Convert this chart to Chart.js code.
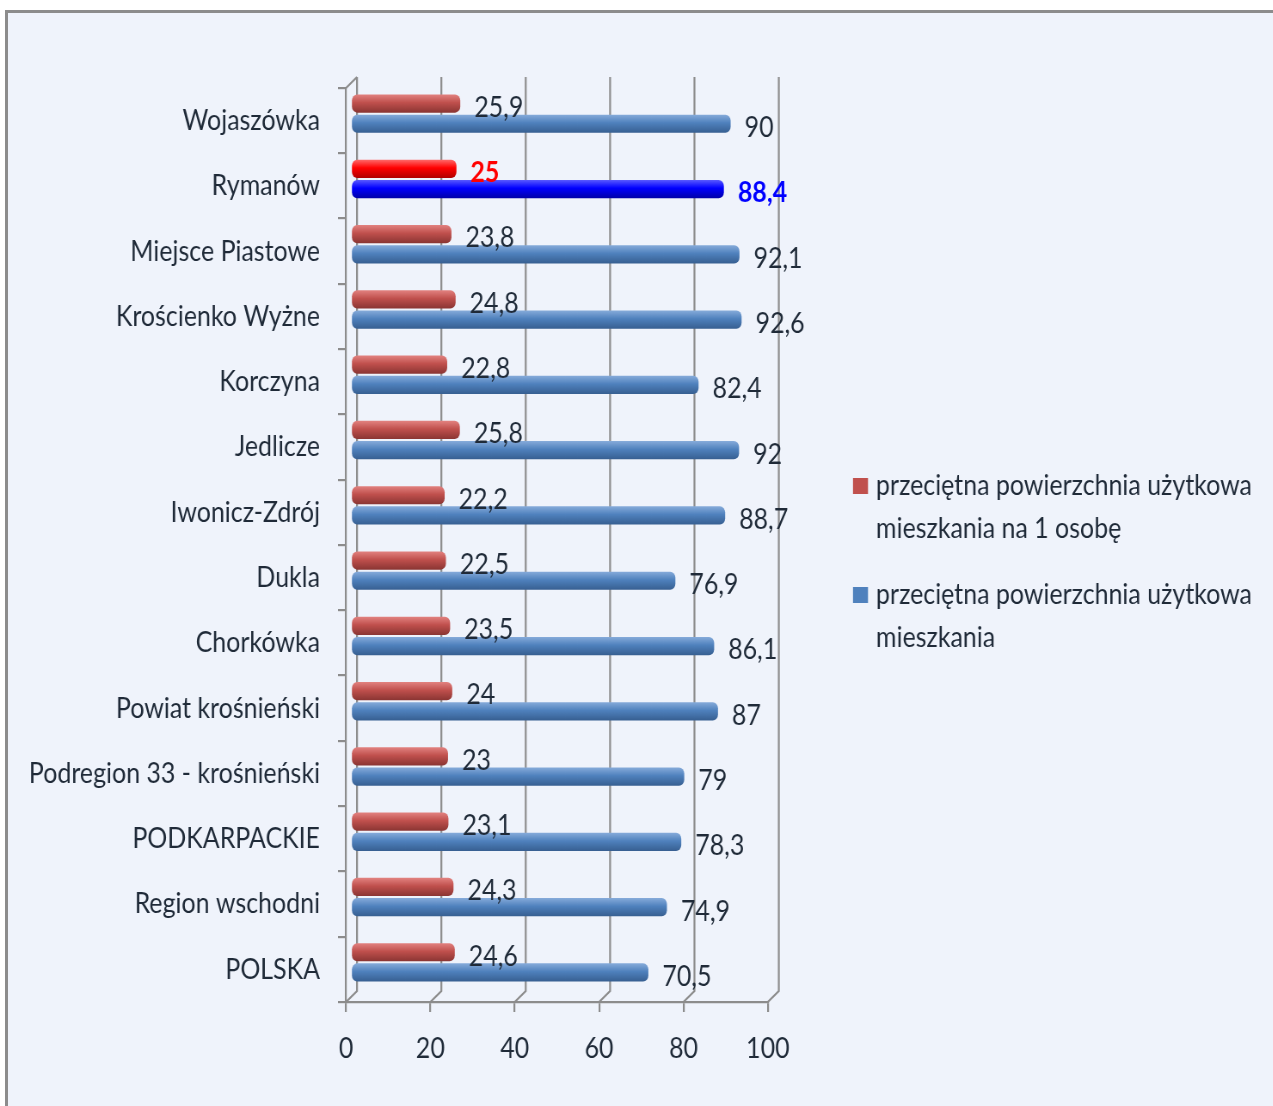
<!DOCTYPE html>
<html lang="pl">
<head>
<meta charset="utf-8">
<title>Przeciętna powierzchnia użytkowa mieszkania</title>
<script src="https://cdn.jsdelivr.net/npm/chart.js@4/dist/chart.umd.min.js"></script>
<style>
  html, body { margin: 0; padding: 0; background: #ffffff; overflow: hidden; width: 1273px; height: 1106px; }
  #frame {
    position: absolute; left: 5px; top: 10px; width: 1300px; height: 1200px;
    border-left: 3px solid #8c8c8c; border-top: 3px solid #8c8c8c;
    background: #eff3fb;
  }
  #chart { position: absolute; left: 0; top: 0; transform-origin: 0 0; }
</style>
</head>
<body>
<div id="frame"></div>
<canvas id="chart"></canvas>
<script>
// Gminy i jednostki porównawcze
const categories = [
  'Wojaszówka', 'Rymanów', 'Miejsce Piastowe', 'Krościenko Wyżne', 'Korczyna',
  'Jedlicze', 'Iwonicz-Zdrój', 'Dukla', 'Chorkówka', 'Powiat krośnieński',
  'Podregion 33 - krośnieński', 'PODKARPACKIE', 'Region wschodni', 'POLSKA'
];
// przeciętna powierzchnia użytkowa mieszkania na 1 osobę [m²]
const perPerson = [25.9, 25, 23.8, 24.8, 22.8, 25.8, 22.2, 22.5, 23.5, 24, 23, 23.1, 24.3, 24.6];
// przeciętna powierzchnia użytkowa mieszkania [m²]
const perDwelling = [90, 88.4, 92.1, 92.6, 82.4, 92, 88.7, 76.9, 86.1, 87, 79, 78.3, 74.9, 70.5];
const seriesNames = [
  ['przeciętna powierzchnia użytkowa', 'mieszkania na 1 osobę'],
  ['przeciętna powierzchnia użytkowa', 'mieszkania']
];
const xTicks = [0, 20, 40, 60, 80, 100];
const highlighted = 'Rymanów';

// narrow rendering: the canvas is drawn wide and squeezed horizontally
const SX = 0.86;
const W = 1273, H = 1106;
const canvas = document.getElementById('chart');
canvas.width = Math.round(W / SX);
canvas.height = H;
canvas.style.width = Math.round(W / SX) + 'px';
canvas.style.height = H + 'px';
canvas.style.transform = 'scaleX(' + SX + ')';

const px = v => v / SX;           // horizontal screen px -> canvas px
const FONT = 'Lato, "Open Sans", sans-serif';
const TEXT = '#1f2a38';
const LINE = '#8c8c8c';
const CAT_PCT = 0.62, BAR_PCT = 0.9;

// plane offsets of the pseudo-3D frame
const BACK_DX = px(11), BACK_DY = -11;
const BAR_DX = px(5), BAR_DY = -7;

const palette = {
  red:  { top: '#e28280', mid: '#c0504d', bot: '#8a3533' },
  blue: { top: '#86abda', mid: '#4f81bd', bot: '#375f91' },
  hiRed:  { top: '#ff6a6a', mid: '#ff0000', bot: '#b00000' },
  hiBlue: { top: '#5a5aff', mid: '#0000ff', bot: '#0000a8' }
};

// vertical gradient across one bar, giving it a rounded (cylinder) look
function cylinder(ctx, key) {
  const chart = ctx.chart;
  const p = palette[key];
  const y = chart.scales && chart.scales.y;
  if (!y || !chart.chartArea) return p.mid;
  const c = y.getPixelForValue(ctx.dataIndex);
  const band = Math.abs(y.getPixelForValue(1) - y.getPixelForValue(0));
  const slot = band * CAT_PCT / 2;
  const h = slot * BAR_PCT;
  const mid = c + (ctx.datasetIndex === 0 ? -slot / 2 : slot / 2);
  if (!Number.isFinite(mid) || !Number.isFinite(h) || h <= 0) return p.mid;
  const g = chart.ctx.createLinearGradient(0, mid - h / 2, 0, mid + h / 2);
  g.addColorStop(0, p.top);
  g.addColorStop(0.45, p.mid);
  g.addColorStop(1, p.bot);
  return g;
}

function fillFor(baseKey, hiKey) {
  return (ctx) => {
    const isHi = categories[ctx.dataIndex] === highlighted;
    return cylinder(ctx, isHi ? hiKey : baseKey);
  };
}

const fmt = v => String(v).replace('.', ',');

// back wall, floor and left wall of the 3D frame
const frame3d = {
  id: 'frame3d',
  beforeDatasetsDraw(chart) {
    const { ctx, chartArea: a, scales: { x } } = chart;
    ctx.save();
    ctx.strokeStyle = LINE;
    ctx.lineWidth = 2.2;
    ctx.beginPath();
    xTicks.forEach(v => {
      const fx = x.getPixelForValue(v);
      ctx.moveTo(fx + BACK_DX, a.top + BACK_DY);
      ctx.lineTo(fx + BACK_DX, a.bottom + BACK_DY);
      ctx.lineTo(fx, a.bottom);
    });
    ctx.moveTo(a.left, a.top);
    ctx.lineTo(a.left + BACK_DX, a.top + BACK_DY);
    ctx.stroke();
    ctx.restore();
    // bars sit in the middle of the depth
    ctx.save();
    ctx.translate(BAR_DX, BAR_DY);
  },
  afterDatasetsDraw(chart) {
    const { ctx } = chart;
    ctx.restore();
    ctx.save();
    ctx.textAlign = 'left';
    ctx.textBaseline = 'middle';
    chart.data.datasets.forEach((ds, di) => {
      const meta = chart.getDatasetMeta(di);
      meta.data.forEach((el, i) => {
        const isHi = categories[i] === highlighted;
        ctx.font = (isHi ? 'bold ' : '') + '29px ' + FONT;
        ctx.fillStyle = isHi ? (di === 0 ? '#ff0000' : '#0000ff') : TEXT;
        ctx.fillText(fmt(ds.data[i]), el.x + px(19), el.y - 3);
      });
    });
    ctx.restore();
  }
};

// legend on the right, two-line entries
const sideLegend = {
  id: 'sideLegend',
  afterDraw(chart) {
    const { ctx } = chart;
    const colors = ['#c0504d', '#4f81bd'];
    const tops = [478, 587];
    ctx.save();
    ctx.font = '29px ' + FONT;
    ctx.textAlign = 'left';
    ctx.textBaseline = 'middle';
    seriesNames.forEach((lines, i) => {
      ctx.fillStyle = colors[i];
      ctx.fillRect(px(853), tops[i], px(15), 16);
      ctx.fillStyle = TEXT;
      lines.forEach((t, k) => {
        ctx.fillText(t, px(876), tops[i] + 8 + k * 43);
      });
    });
    ctx.restore();
  }
};

const chart = new Chart(canvas, {
  type: 'bar',
  data: {
    labels: categories,
    datasets: [
      {
        label: seriesNames[0].join(' '),
        data: perPerson,
        backgroundColor: fillFor('red', 'hiRed'),
        borderWidth: 0,
        borderRadius: 6,
        borderSkipped: false,
        categoryPercentage: CAT_PCT,
        barPercentage: BAR_PCT
      },
      {
        label: seriesNames[1].join(' '),
        data: perDwelling,
        backgroundColor: fillFor('blue', 'hiBlue'),
        borderWidth: 0,
        borderRadius: 6,
        borderSkipped: false,
        categoryPercentage: CAT_PCT,
        barPercentage: BAR_PCT
      }
    ]
  },
  options: {
    indexAxis: 'y',
    responsive: false,
    animation: false,
    devicePixelRatio: 1,
    layout: { padding: { left: 0, right: px(1273 - 768), top: 88, bottom: 24 } },
    plugins: { legend: { display: false }, tooltip: { enabled: false } },
    scales: {
      y: {
        afterFit(scale) { scale.width = px(346); },
        ticks: { color: TEXT, font: { family: FONT, size: 29 }, padding: px(18) },
        grid: { drawOnChartArea: false, drawTicks: true, tickLength: px(8), color: LINE, lineWidth: 2.2 },
        border: { color: LINE, width: 2.2 }
      },
      x: {
        min: 0, max: 100,
        afterFit(scale) { scale.height = 80; },
        afterBuildTicks(scale) { scale.ticks = xTicks.map(v => ({ value: v })); },
        ticks: { color: TEXT, font: { family: FONT, size: 29 }, padding: 19 },
        grid: { drawOnChartArea: false, drawTicks: true, tickLength: 10, color: LINE, lineWidth: 2.2 },
        border: { color: LINE, width: 2.2 }
      }
    }
  },
  plugins: [frame3d, sideLegend]
});
</script>
</body>
</html>
